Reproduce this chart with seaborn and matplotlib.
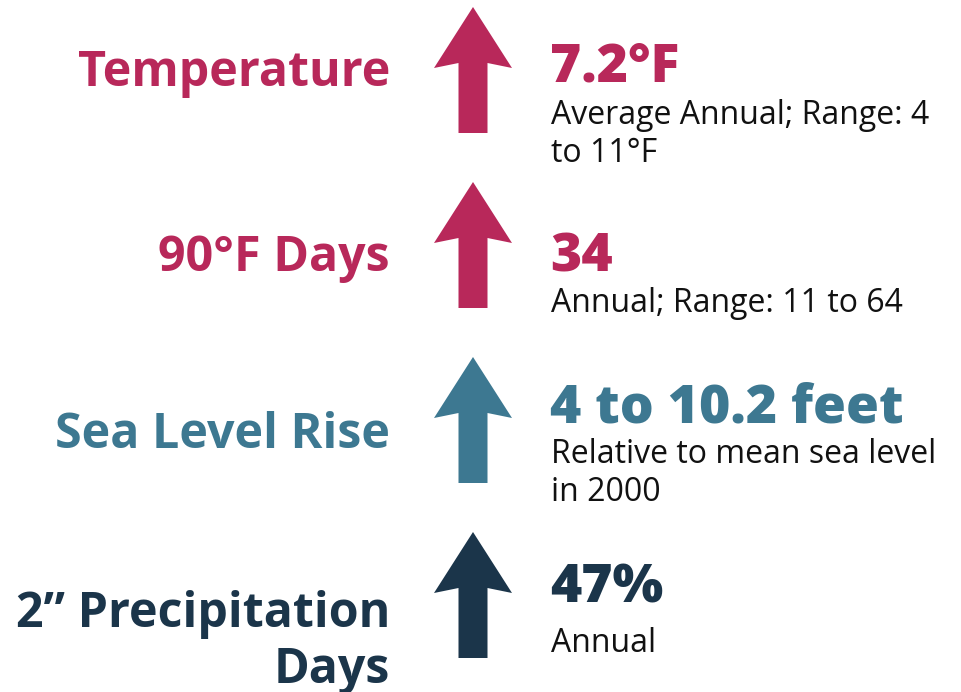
import numpy as np
import pandas as pd
import seaborn as sns
import matplotlib.pyplot as plt
from matplotlib.path import Path

# Data
labels = ["Temperature", "90°F Days", "Sea Level Rise", "2” Precipitation\nDays"]
values = ["7.2°F", "34", "4 to 10.2 feet", "47%"]
notes = ["Average Annual; Range: 4\nto 11°F", "Annual; Range: 11 to 64",
         "Relative to mean sea level\nin 2000", "Annual"]
colors = ["#B8285A", "#B8285A", "#3D7891", "#1B354A"]

# Layout (pixels)
ROW_TOP, ROW_STEP = 70, 175
label_base = [86, 271, 448, 627]
value_base = [82, 271, 422, 602]
note_base = [124, 312, 463, 652]

sns.set_theme(style="white")
plt.rcParams["font.family"] = ["Open Sans", "DejaVu Sans"]

fig = plt.figure(figsize=(9.61, 6.92), dpi=100)
ax = fig.add_axes([0, 0, 1, 1])
ax.set_xlim(0, 961)
ax.set_ylim((692 - ROW_TOP) / ROW_STEP, -ROW_TOP / ROW_STEP)
ax.axis("off")

# arrow-shaped marker
verts = [(0, 63), (39, 2), (14.5, 7), (14.5, -63), (-14.5, -63),
         (-14.5, 7), (-39, 2), (0, 63)]
codes = [Path.MOVETO] + [Path.LINETO] * 6 + [Path.CLOSEPOLY]
arrow = Path(verts, codes)

df = pd.DataFrame({"x": [473] * len(labels), "row": np.arange(len(labels)),
                   "label": labels})
size_pt = 126 * 72 / 100
sns.scatterplot(data=df, x="x", y="row", hue="label", palette=colors,
                marker=arrow, s=size_pt ** 2, linewidth=0, legend=False, ax=ax)


def py(row, px):
    return row + (px - (ROW_TOP + ROW_STEP * row)) / ROW_STEP


for i in range(len(labels)):
    for k, line in enumerate(labels[i].split("\n")):
        ax.text(390, py(i, label_base[i] + 56 * k), line, ha="right",
                va="baseline", fontsize=34.8, fontweight="bold", color=colors[i])
    ax.text(550, py(i, value_base[i]), values[i], ha="left", va="baseline",
            fontsize=38.5, fontweight="heavy", color=colors[i])
    for k, line in enumerate(notes[i].split("\n")):
        ax.text(551, py(i, note_base[i] + 38 * k), line, ha="left",
                va="baseline", fontsize=23, color="#111111")

fig.savefig("out.png", dpi=100)
